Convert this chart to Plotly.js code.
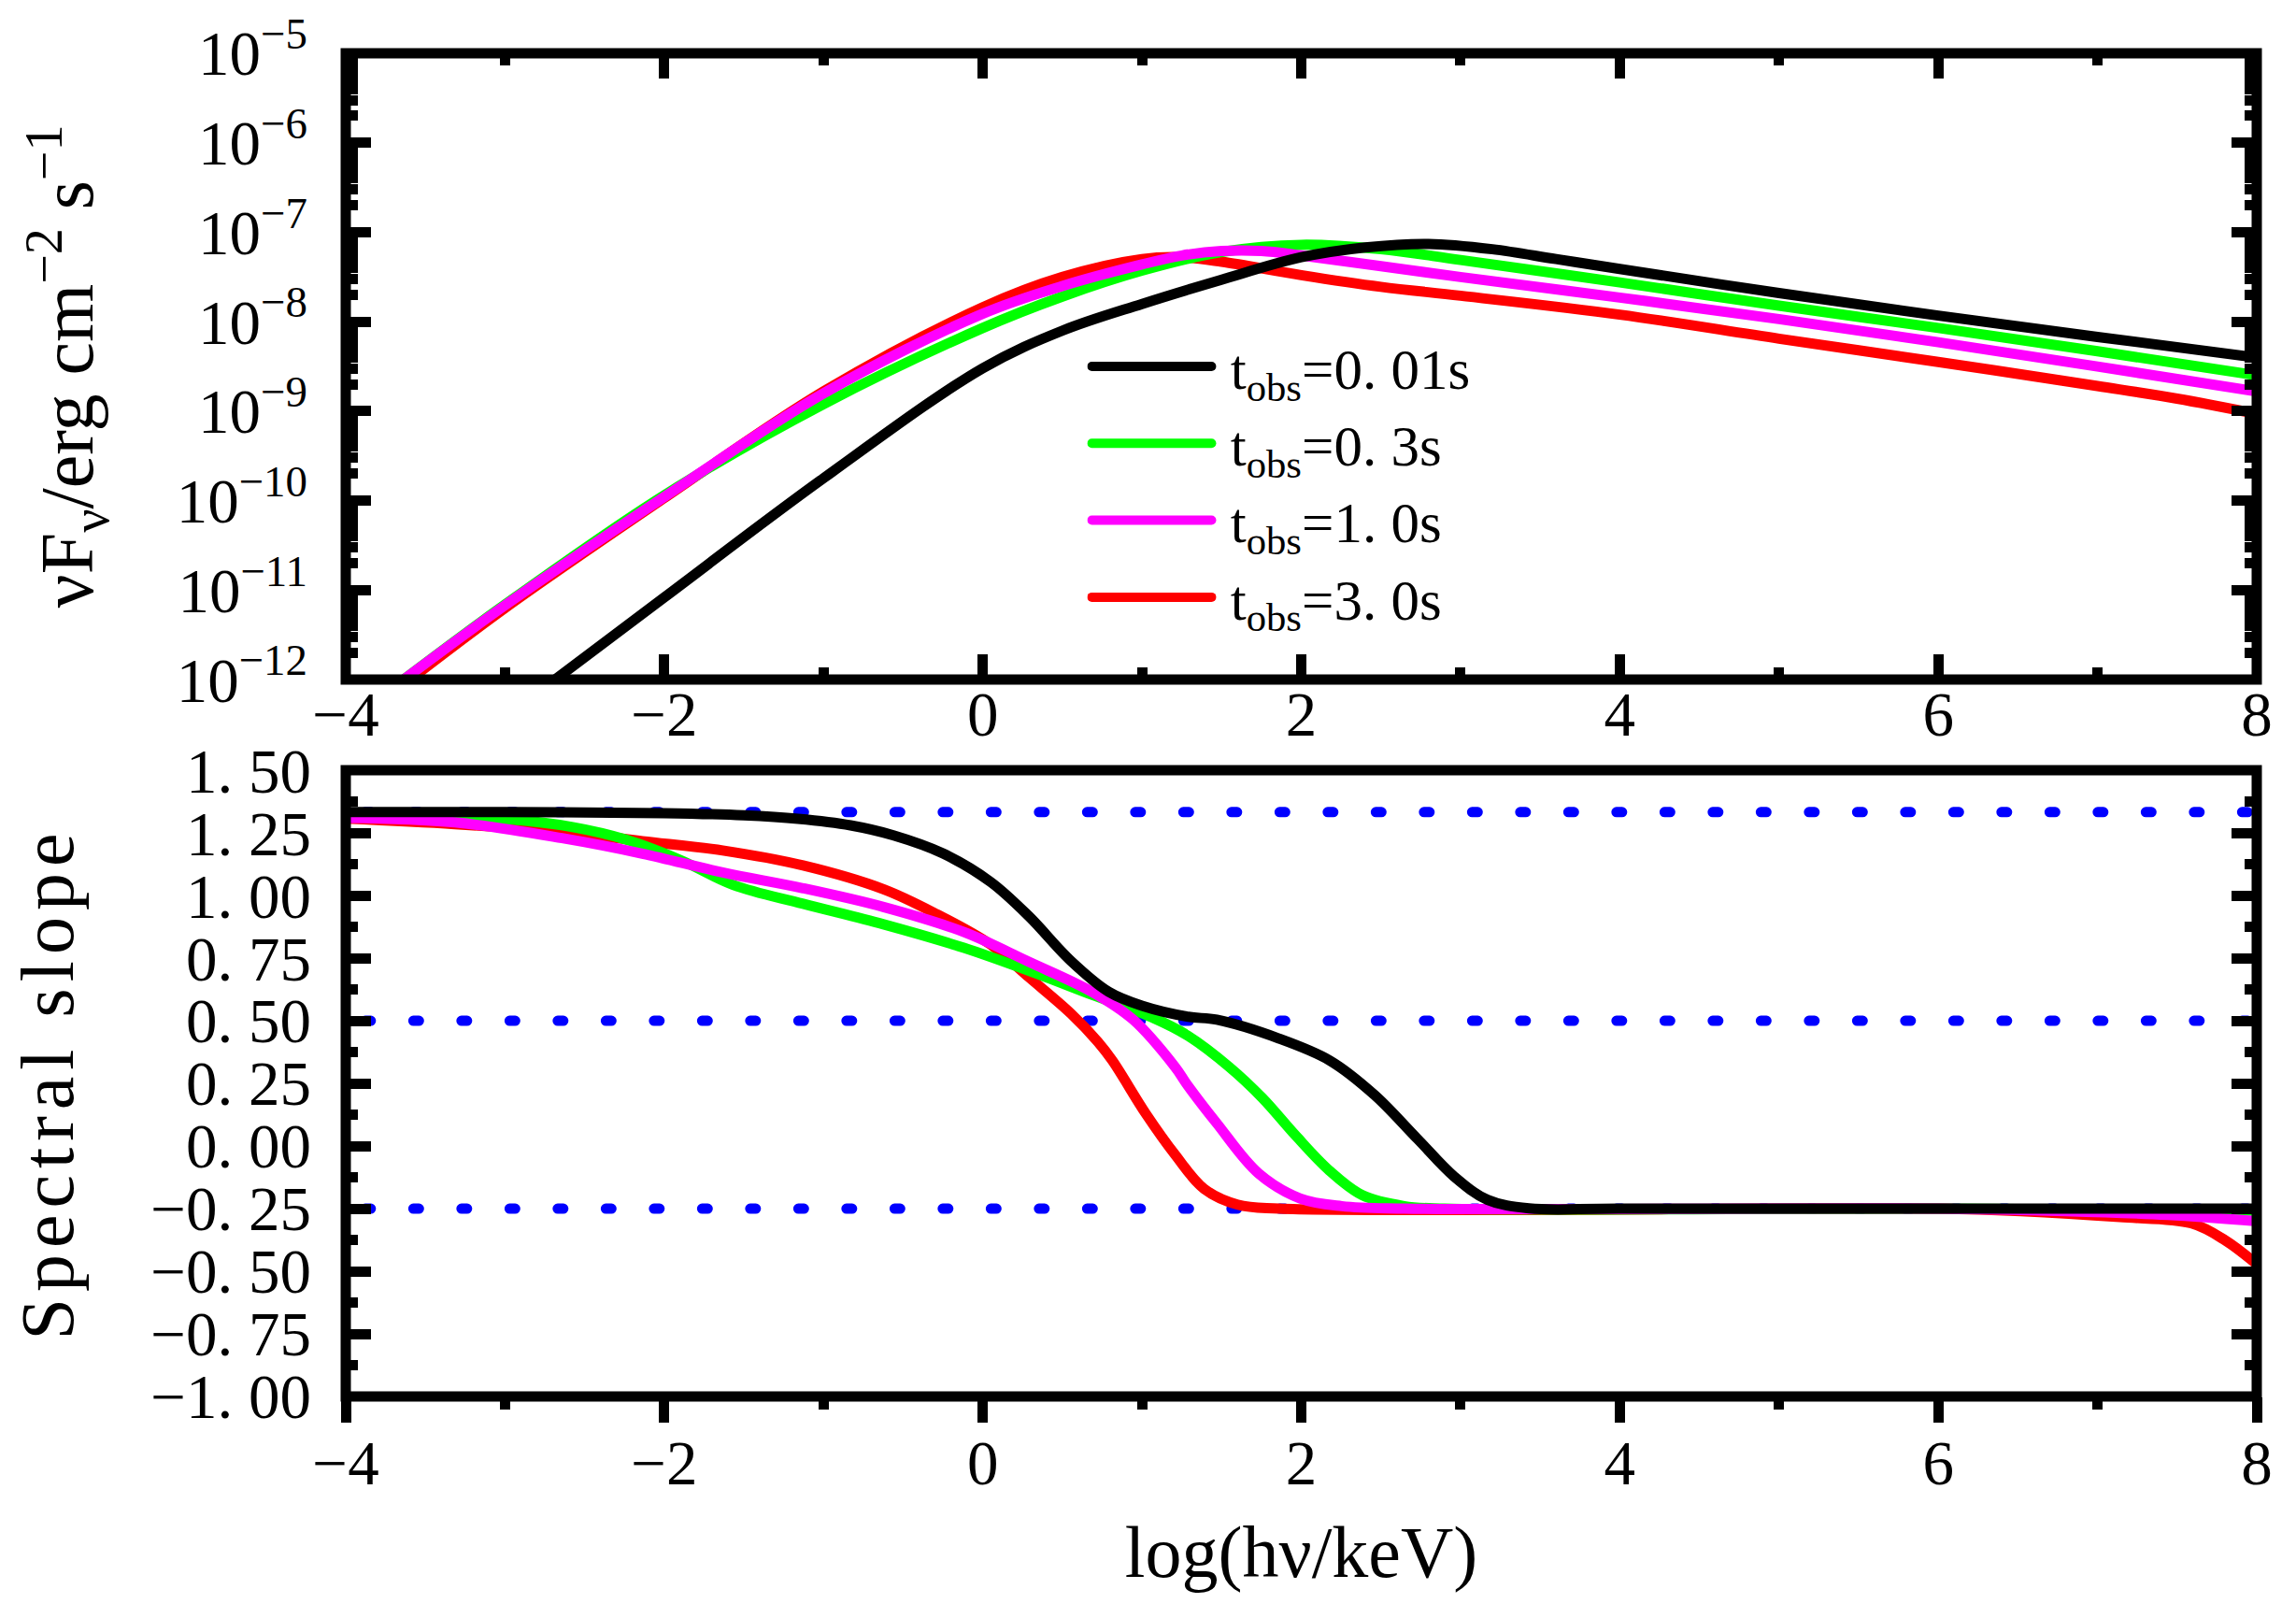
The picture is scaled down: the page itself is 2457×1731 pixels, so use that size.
<!DOCTYPE html>
<html>
<head>
<meta charset="utf-8">
<script src="https://cdn.plot.ly/plotly-3.0.1.min.js"></script>
<style>
  body { margin: 0; background: #fff; }
  #chart { width: 2457px; height: 1731px; }
  /* rounded dots and rounded legend keys, as in the original figure */
  #chart path.js-line { stroke-linecap: round; }
</style>
</head>
<body>
<div id="chart"></div>
<script>
// series names and colours
var names = ['\u00a0t<sub>obs</sub>=0. 01s', '\u00a0t<sub>obs</sub>=0. 3s', '\u00a0t<sub>obs</sub>=1. 0s', '\u00a0t<sub>obs</sub>=3. 0s'];
var colors = ['#000000', '#00ff00', '#ff00ff', '#ff0000'];

// upper panel: nuFnu (erg cm^-2 s^-1) vs log(hnu/keV)
var fluxX_001 = [-2.72, -2.0, -1.0, 0.0, 0.5, 1.0, 1.5, 2.0, 2.4, 2.8, 3.2, 3.6, 4.0, 5.0, 6.0, 7.0, 8.0];
var fluxY_001 = [9.0e-13, 8.3e-12, 1.78e-10, 3.02e-9, 7.94e-9, 1.58e-8, 2.95e-8, 5.25e-8, 6.76e-8, 7.41e-8, 6.46e-8, 5.01e-8, 3.89e-8, 2.09e-8, 1.17e-8, 6.76e-9, 3.98e-9];

var fluxX_03 = [-3.66, -3.0, -2.0, -1.0, 0.0, 0.5, 1.0, 1.5, 2.0, 2.5, 3.0, 4.0, 5.0, 6.0, 7.0, 8.0];
var fluxY_03 = [9.3e-13, 6.9e-12, 1.15e-10, 1.20e-9, 8.51e-9, 1.91e-8, 3.72e-8, 6.03e-8, 7.24e-8, 6.46e-8, 4.90e-8, 2.75e-8, 1.51e-8, 8.51e-9, 4.68e-9, 2.51e-9];

var fluxX_10 = [-3.66, -3.0, -2.0, -1.0, 0.0, 0.5, 1.0, 1.25, 1.5, 1.75, 2.0, 2.5, 3.0, 4.0, 5.0, 6.0, 7.0, 8.0];
var fluxY_10 = [9.3e-13, 6.76e-12, 1.10e-10, 1.58e-9, 1.23e-8, 2.51e-8, 4.37e-8, 5.50e-8, 6.17e-8, 6.17e-8, 5.50e-8, 4.17e-8, 3.16e-8, 1.86e-8, 1.07e-8, 5.89e-9, 3.16e-9, 1.66e-9];

var fluxX_30 = [-3.62, -3.0, -2.0, -1.0, 0.0, 0.5, 1.0, 1.25, 1.5, 2.0, 2.5, 3.0, 4.0, 5.0, 6.0, 7.0, 7.5, 8.0];
var fluxY_30 = [9.3e-13, 6.3e-12, 1.07e-10, 1.66e-9, 1.45e-8, 3.16e-8, 5.01e-8, 5.25e-8, 4.68e-8, 3.31e-8, 2.45e-8, 1.95e-8, 1.20e-8, 6.46e-9, 3.55e-9, 1.91e-9, 1.38e-9, 9.33e-10];

// lower panel: spectral slope vs log(hnu/keV)
var slopeX_001 = [-4.0, -3.0, -2.0, -1.5, -1.16, -0.83, -0.56, -0.25, 0.05, 0.29, 0.55, 0.79, 1.0, 1.29, 1.47, 1.86, 2.18, 2.46, 2.73, 2.96, 3.17, 3.43, 4.0, 8.0];
var slopeY_001 = [1.333, 1.333, 1.329, 1.32, 1.306, 1.28, 1.24, 1.168, 1.054, 0.917, 0.741, 0.616, 0.56, 0.516, 0.504, 0.429, 0.341, 0.204, 0.028, -0.122, -0.215, -0.249, -0.25, -0.25];

var slopeX_03 = [-4.0, -2.98, -2.575, -2.24, -1.9, -1.565, -1.128, -0.623, -0.118, 0.33, 0.684, 1.076, 1.286, 1.547, 1.757, 1.966, 2.175, 2.385, 2.646, 2.9, 6.0, 8.0];
var slopeY_03 = [1.32, 1.304, 1.273, 1.223, 1.142, 1.042, 0.967, 0.885, 0.791, 0.69, 0.604, 0.51, 0.441, 0.316, 0.191, 0.041, -0.097, -0.197, -0.24, -0.25, -0.25, -0.258];

var slopeX_10 = [-4.0, -3.315, -2.642, -2.137, -1.633, -1.128, -0.623, -0.118, 0.29, 0.684, 0.945, 1.207, 1.288, 1.469, 1.731, 1.992, 2.254, 2.646, 6.0, 6.8, 7.44, 8.0];
var slopeY_10 = [1.31, 1.292, 1.229, 1.167, 1.092, 1.029, 0.954, 0.854, 0.735, 0.616, 0.504, 0.316, 0.241, 0.091, -0.109, -0.209, -0.24, -0.25, -0.25, -0.26, -0.275, -0.30];

var slopeX_30 = [-4.0, -3.315, -2.642, -2.137, -1.633, -1.128, -0.623, -0.287, 0.05, 0.291, 0.553, 0.723, 0.814, 1.024, 1.207, 1.39, 1.6, 1.861, 6.0, 6.52, 7.14, 7.59, 7.8, 8.0];
var slopeY_30 = [1.307, 1.285, 1.254, 1.217, 1.18, 1.12, 1.025, 0.925, 0.804, 0.673, 0.529, 0.416, 0.341, 0.129, -0.034, -0.171, -0.234, -0.25, -0.25, -0.26, -0.284, -0.309, -0.376, -0.472];

// dotted reference levels in the lower panel
var refLevels = [1.333, 0.5, -0.25];
var refRange = [-4.18, 8];

// tick labels
var xTickVals = [-4, -2, 0, 2, 4, 6, 8];
var xTickText = ['\u22124', '\u22122', '0', '2', '4', '6', '8'];
var fluxTickVals = [1e-12, 1e-11, 1e-10, 1e-9, 1e-8, 1e-7, 1e-6, 1e-5];
var fluxTickText = ['10<sup>\u221212</sup>', '10<sup>\u221211</sup>', '10<sup>\u221210</sup>', '10<sup>\u22129</sup>',
                    '10<sup>\u22128</sup>', '10<sup>\u22127</sup>', '10<sup>\u22126</sup>', '10<sup>\u22125</sup>'];
var slopeTickVals = [1.5, 1.25, 1.0, 0.75, 0.5, 0.25, 0.0, -0.25, -0.5, -0.75, -1.0];
var slopeTickText = ['1. 50', '1. 25', '1. 00', '0. 75', '0. 50', '0. 25', '0. 00',
                     '\u22120. 25', '\u22120. 50', '\u22120. 75', '\u22121. 00'];

var FONT = 'Liberation Serif';
var LW = 11;

var fluxX = [fluxX_001, fluxX_03, fluxX_10, fluxX_30];
var fluxY = [fluxY_001, fluxY_03, fluxY_10, fluxY_30];
var slopeX = [slopeX_001, slopeX_03, slopeX_10, slopeX_30];
var slopeY = [slopeY_001, slopeY_03, slopeY_10, slopeY_30];

var data = [];

// reference dotted lines first so the curves sit on top
refLevels.forEach(function (lv) {
    data.push({
        x: refRange,
        y: [lv, lv],
        xaxis: 'x2', yaxis: 'y2',
        type: 'scatter', mode: 'lines',
        line: { color: '#0000ff', width: LW, dash: '6px,45.5px' },
        showlegend: false, hoverinfo: 'skip'
    });
});

// draw order: red, green, magenta, black (legend keeps 0.01s..3.0s)
var drawOrder = [3, 1, 2, 0];
drawOrder.forEach(function (i) {
    data.push({
        x: fluxX[i], y: fluxY[i],
        xaxis: 'x', yaxis: 'y',
        type: 'scatter', mode: 'lines',
        name: names[i], legendrank: i + 1,
        line: { color: colors[i], width: LW, shape: 'spline', smoothing: 1 }
    });
});
drawOrder.forEach(function (i) {
    data.push({
        x: slopeX[i], y: slopeY[i],
        xaxis: 'x2', yaxis: 'y2',
        type: 'scatter', mode: 'lines',
        name: names[i], showlegend: false,
        line: { color: colors[i], width: LW, shape: 'spline', smoothing: 1 }
    });
});

var tickFont = { family: FONT, size: 67, color: '#000' };

function xAxis(extra) {
    var ax = {
        range: [-4, 8],
        tickmode: 'array', tickvals: xTickVals, ticktext: xTickText,
        ticks: 'inside', ticklen: 27, tickwidth: LW, tickcolor: '#000',
        minor: { dtick: 1, tick0: 0, ticks: 'inside', ticklen: 13, tickwidth: LW, tickcolor: '#000' },
        showgrid: false, zeroline: false, showline: false,
        tickfont: tickFont
    };
    return Object.assign(ax, extra);
}

var layout = {
    width: 2457,
    height: 1731,
    margin: { l: 370, r: 42, t: 57, b: 237 },
    paper_bgcolor: '#fff',
    plot_bgcolor: '#fff',
    font: { family: FONT, color: '#000' },
    showlegend: true,
    legend: {
        x: 0.388, y: 0.799, xanchor: 'left', yanchor: 'top',
        font: { family: FONT, size: 61, color: '#000' },
        bgcolor: 'rgba(0,0,0,0)', borderwidth: 0,
        itemwidth: 128, tracegroupgap: 0
    },
    xaxis: xAxis({ anchor: 'y', mirror: 'ticks', ticklabelstandoff: -8 }),
    yaxis: {
        domain: [0.5337, 1], anchor: 'x',
        type: 'log', range: [-12, -5],
        tickmode: 'array', tickvals: fluxTickVals, ticktext: fluxTickText,
        ticks: 'inside', ticklen: 27, tickwidth: LW, tickcolor: '#000',
        minor: { dtick: 'D1', ticks: 'inside', ticklen: 13, tickwidth: LW, tickcolor: '#000' },
        mirror: 'ticks',
        showgrid: false, zeroline: false, showline: false,
        tickfont: tickFont, ticklabelstandoff: 40,
        title: {
            text: '\u03bdF<sub>\u03bd</sub>/erg cm<sup>\u22122</sup> s<sup>\u22121</sup>',
            font: { family: FONT, size: 80, color: '#000' },
            standoff: 62
        }
    },
    xaxis2: xAxis({
        anchor: 'y2', ticks: 'outside',
        minor: { dtick: 1, tick0: 0, ticks: 'outside', ticklen: 13, tickwidth: LW, tickcolor: '#000' },
        ticklabelstandoff: -14,
        title: { text: 'log(h\u03bd/keV)', font: { family: FONT, size: 78, color: '#000' }, standoff: 30 }
    }),
    xaxis3: xAxis({ anchor: 'y2', overlaying: 'x2', side: 'top', showticklabels: false }),
    yaxis2: {
        domain: [0, 0.4662], anchor: 'x2',
        range: [-1, 1.5],
        tickmode: 'array', tickvals: slopeTickVals, ticktext: slopeTickText,
        ticks: 'inside', ticklen: 27, tickwidth: LW, tickcolor: '#000',
        minor: { dtick: 0.125, tick0: 0, ticks: 'inside', ticklen: 13, tickwidth: LW, tickcolor: '#000' },
        mirror: 'ticks',
        showgrid: false, zeroline: false, showline: false,
        tickfont: tickFont, ticklabelstandoff: 36,
        title: {
            text: '<span style="letter-spacing:7px">Spectral slope</span>',
            font: { family: FONT, size: 80, color: '#000' },
            standoff: 56
        }
    },
    shapes: [
        { type: 'rect', xref: 'x domain', yref: 'y domain', x0: 0, x1: 1, y0: 0, y1: 1,
          line: { color: '#000', width: LW }, layer: 'above' },
        { type: 'rect', xref: 'x2 domain', yref: 'y2 domain', x0: 0, x1: 1, y0: 0, y1: 1,
          line: { color: '#000', width: LW }, layer: 'above' }
    ]
};

Plotly.newPlot('chart', data, layout, { staticPlot: true });
</script>
</body>
</html>
